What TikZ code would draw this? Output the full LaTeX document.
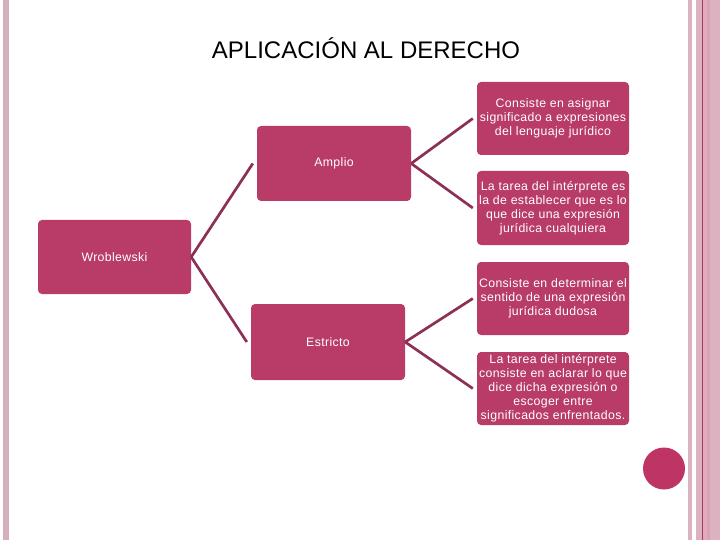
\documentclass[tikz,border=0pt]{standalone}
\usepackage{fontspec}
\setmainfont{Liberation Sans}
\newfontfamily\boxfont[LetterSpace=3]{Liberation Sans}
\definecolor{boxfill}{RGB}{184,60,103}
\definecolor{linecol}{RGB}{140,48,88}
\definecolor{circcol}{RGB}{190,52,100}
\definecolor{bandL}{RGB}{213,175,189}
\definecolor{bandA}{RGB}{221,178,192}
\definecolor{bandB}{RGB}{227,170,188}
\definecolor{bandC}{RGB}{214,164,180}
\definecolor{bandD}{RGB}{160,64,95}
\tikzset{
  box/.style={rectangle, rounded corners=4pt, fill=boxfill, text=white, align=center,
    inner sep=0pt, font=\boxfont\fontsize{12.3}{14}\selectfont},
  lvl/.style={box, minimum width=154pt, minimum height=75pt},
  leaf/.style={box, minimum width=152pt, minimum height=73pt},
  conn/.style={draw=linecol, line width=2.7pt}
}
\begin{document}
\begin{tikzpicture}[x=1pt,y=-1pt]
\useasboundingbox (0,0) rectangle (720,540);
% side bands
\fill[bandL] (3,0) rectangle (9,540);
\fill[bandA] (688,0) rectangle (692,540);
\fill[bandA] (696,0) rectangle (702,540);
\fill[bandD] (702,0) rectangle (703,540);
\fill[bandB] (703,0) rectangle (707,540);
\fill[bandC] (707,0) rectangle (710,540);
\fill[bandA] (710,0) rectangle (720,540);
% circle
\fill[circcol] (664,468.5) circle (21pt);
% title
\node[anchor=base, font=\fontsize{24}{28}\selectfont] (title) at (366,59) {APLICACIÓN AL DERECHO};
% level nodes
\node[lvl, minimum width=153pt, minimum height=74pt] (w) at (114.5,257) {Wroblewski};
\node[lvl] (a) at (334,163.5) {Amplio};
\node[lvl, minimum height=76pt] (e) at (328,342) {Estricto};
% leaves
\node[leaf] (l1) at (553,118.5) {Consiste en asignar\\significado a expresiones\\del lenguaje jurídico};
\node[leaf, minimum height=74pt] (l2) at (553,208) {La tarea del intérprete es\\la de establecer que es lo\\que dice una expresión\\jurídica cualquiera};
\node[leaf] (l3) at (553,298.5) {Consiste en determinar el\\sentido de una expresión\\jurídica dudosa};
\node[leaf] (l4) at (553,388.5) {La tarea del intérprete\\consiste en aclarar lo que\\dice dicha expresión o\\escoger entre\\significados enfrentados.};
% connectors
\draw[conn] (w.east) -- ([xshift=-4pt]a.west);
\draw[conn] (w.east) -- ([xshift=-4pt]e.west);
\draw[conn] (a.east) -- ([xshift=-4pt]l1.west);
\draw[conn] (a.east) -- ([xshift=-4pt]l2.west);
\draw[conn] (e.east) -- ([xshift=-4pt]l3.west);
\draw[conn] (e.east) -- ([xshift=-4pt]l4.west);
\end{tikzpicture}
\end{document}
